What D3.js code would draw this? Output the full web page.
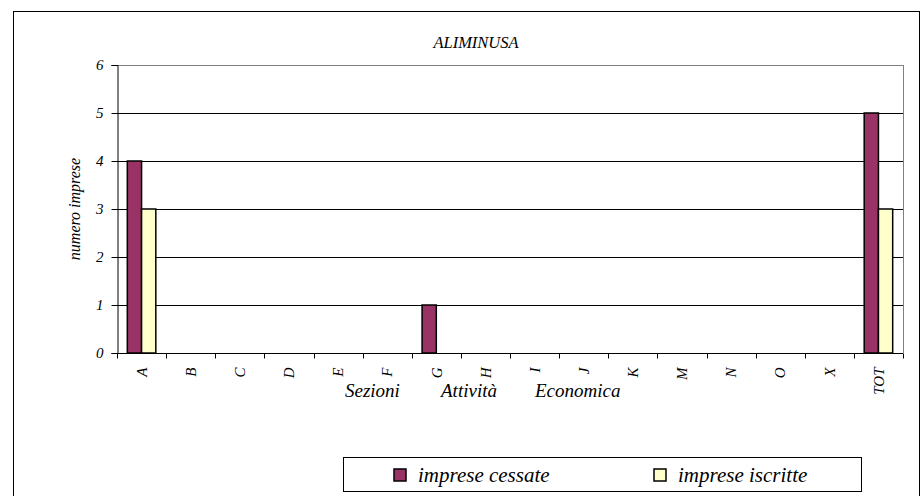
<!DOCTYPE html>
<html>
<head>
<meta charset="utf-8">
<title>ALIMINUSA</title>
<script src="https://cdn.jsdelivr.net/npm/d3@7"></script>
<style>
  body { margin: 0; background: #fff; }
  svg text { font-family: "Liberation Serif", "Times New Roman", Times, "DejaVu Serif", serif !important; font-style: italic; fill: #000; }
</style>
</head>
<body>
<svg width="921" height="496" font-family="Liberation Serif"></svg>
<script>
    // data
    const categories = ["A","B","C","D","E","F","G","H","I","J","K","M","N","O","X","TOT"];
    const cessate  = [4,0,0,0,0,0,1,0,0,0,0,0,0,0,0,5];
    const iscritte = [3,0,0,0,0,0,0,0,0,0,0,0,0,0,0,3];
    const seriesNames = ["imprese cessate","imprese iscritte"];
    const seriesColors = ["#993366","#ffffcc"];
    const yTicks = [0,1,2,3,4,5,6];

    const svg = d3.select("svg");
    const pLeft = 117, pRight = 903, pTop = 65, pBottom = 353;

    // chart frame
    svg.append("rect")
        .attr("x", 13.5).attr("y", 11.5)
        .attr("width", 906).attr("height", 500)
        .attr("fill", "none").attr("stroke", "#000");

    svg.append("text")
        .attr("x", 476).attr("y", 48)
        .attr("text-anchor", "middle")
        .attr("font-size", 16.5)
        .text("ALIMINUSA");

    var x = d3.scaleBand().domain(categories).range([pLeft, pRight]);
    var x1 = d3.scaleBand().domain(seriesNames)
        .range([x.bandwidth() * 0.21, x.bandwidth() * 0.79]);
    var y = d3.scaleLinear().domain([0, 6]).range([pBottom, pTop]);

    // gridlines
    svg.append("g").selectAll("line")
        .data(yTicks.filter(d => d > 0)).enter().append("line")
            .attr("x1", pLeft).attr("x2", pRight)
            .attr("y1", d => Math.round(y(d)) + 0.5)
            .attr("y2", d => Math.round(y(d)) + 0.5)
            .attr("stroke", d => d == 6 ? "#808080" : "#000");
    svg.append("line")
        .attr("x1", pRight + 0.5).attr("x2", pRight + 0.5)
        .attr("y1", pTop).attr("y2", pBottom)
        .attr("stroke", "#808080");

    // bars
    const rows = categories.map((c, i) => ({cat: c, vals: [cessate[i], iscritte[i]]}));
    svg.append("g").selectAll("g")
        .data(rows).enter().append("g")
            .attr("transform", d => "translate(" + x(d.cat) + ",0)")
        .selectAll("rect")
        .data(d => d.vals.map((v, j) => ({name: seriesNames[j], v: v, c: seriesColors[j]})).filter(d => d.v > 0))
        .enter().append("rect")
            .attr("x", d => x1(d.name))
            .attr("y", d => y(d.v))
            .attr("width", x1.bandwidth())
            .attr("height", d => pBottom - y(d.v))
            .attr("fill", d => d.c)
            .attr("stroke", "#000")
            .attr("stroke-width", 1.5);

    // y axis
    var yAxis = svg.append("g")
        .attr("transform", "translate(" + (pLeft + 0.5) + ",0)")
        .call(d3.axisLeft(y).tickValues(yTicks).tickSize(6).tickPadding(8).tickFormat(d3.format("d")));
    yAxis.attr("font-family", null).attr("font-size", null);
    yAxis.selectAll("text").attr("font-size", 15);
    yAxis.selectAll("line, path").attr("stroke", "#000");

    svg.append("text")
        .attr("transform", "translate(80," + ((pTop + pBottom) / 2) + ") rotate(-90)")
        .attr("text-anchor", "middle")
        .attr("font-size", 16)
        .text("numero imprese");

    // x axis
    var xg = svg.append("g").attr("transform", "translate(0," + (pBottom + 0.5) + ")");
    xg.append("line")
        .attr("x1", pLeft).attr("x2", pRight)
        .attr("stroke", "#000");
    xg.selectAll(".tk")
        .data(categories.concat(["end"])).enter().append("line")
            .attr("class", "tk")
            .attr("x1", (d, i) => Math.round(pLeft + i * x.step()) + 0.5)
            .attr("x2", (d, i) => Math.round(pLeft + i * x.step()) + 0.5)
            .attr("y1", 0).attr("y2", 5)
            .attr("stroke", "#000");
    xg.selectAll(".lbl")
        .data(categories).enter().append("text")
            .attr("class", "lbl")
            .attr("transform", d => "translate(" + (x(d) + x.bandwidth() / 2) + ",14) rotate(-90)")
            .attr("text-anchor", "end")
            .attr("dy", "0.35em")
            .attr("font-size", 15)
            .text(d => d);

    // x axis title
    const xTitle = ["Sezioni", "Attività", "Economica"];
    svg.append("text")
        .attr("y", 397)
        .attr("font-size", 19)
        .selectAll("tspan")
        .data(xTitle).enter().append("tspan")
            .attr("x", (d, i) => [345, 441, 535][i])
            .text(d => d);

    // legend
    svg.append("rect")
        .attr("x", 343.5).attr("y", 457.5)
        .attr("width", 518).attr("height", 34)
        .attr("fill", "#fff").attr("stroke", "#000");
    var leg = svg.selectAll(".leg")
        .data(seriesNames).enter().append("g")
            .attr("class", "leg")
            .attr("transform", (d, i) => "translate(" + [394, 654][i] + ",0)");
    leg.append("rect")
        .attr("x", 0).attr("y", 469)
        .attr("width", 12).attr("height", 12)
        .attr("fill", (d, i) => seriesColors[i])
        .attr("stroke", "#000").attr("stroke-width", 1.5);
    leg.append("text")
        .attr("x", 24).attr("y", 482)
        .attr("font-size", 21)
        .text(d => d);
</script>
</body>
</html>
